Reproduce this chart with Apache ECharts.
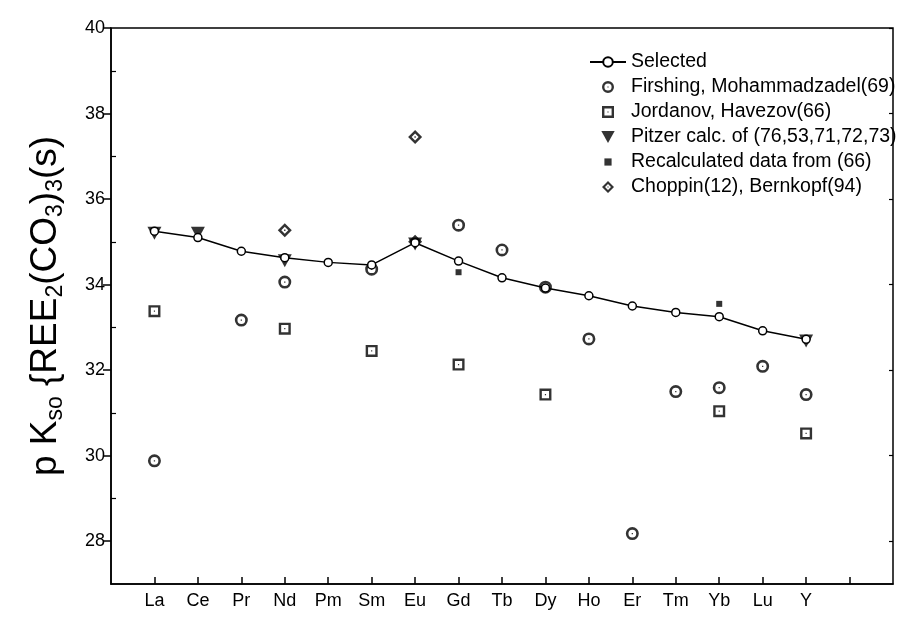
<!DOCTYPE html>
<html><head><meta charset="utf-8">
<script src="https://cdn.jsdelivr.net/npm/echarts@6/dist/echarts.min.js"></script>
<style>html,body{margin:0;padding:0;background:#fff}#c{width:899px;height:619px}</style>
</head><body><div id="c"></div>
<script>
const elements = ['La','Ce','Pr','Nd','Pm','Sm','Eu','Gd','Tb','Dy','Ho','Er','Tm','Yb','Lu','Y'];
const yTickLabels = [28, 30, 32, 34, 36, 38, 40];
const yMinorTicks = [29, 31, 33, 35, 37, 39];

const selected = [35.25, 35.1, 34.78, 34.63, 34.52, 34.46, 34.98, 34.55, 34.16, 33.92, 33.74, 33.5, 33.35, 33.25, 32.92, 32.72];
const firshingEl = ['La','Pr','Nd','Sm','Gd','Tb','Dy','Ho','Er','Tm','Yb','Lu','Y'];
const firshingVal = [29.88, 33.17, 34.06, 34.36, 35.39, 34.81, 33.94, 32.73, 28.18, 31.5, 31.59, 32.09, 31.43];
const jordanovEl = ['La','Nd','Sm','Gd','Dy','Yb','Y'];
const jordanovVal = [33.38, 32.97, 32.45, 32.13, 31.43, 31.04, 30.52];
const pitzerEl = ['La','Ce','Nd','Eu','Y'];
const pitzerVal = [35.2, 35.2, 34.56, 34.95, 32.68];
const recalcEl = ['Gd','Yb'];
const recalcVal = [34.29, 33.55];
const choppinEl = ['Nd','Eu','Eu'];
const choppinVal = [35.27, 37.45, 35.0];

const names = ['Selected','Firshing, Mohammadzadel(69)','Jordanov, Havezov(66)','Pitzer calc. of (76,53,71,72,73)','Recalculated data from (66)','Choppin(12), Bernkopf(94)'];

function pts(els, vals){ return els.map((e,i)=>[elements.indexOf(e)+1, vals[i]]); }

const ringCircle = 'path://M10 0 A10 10 0 1 1 10 20 A10 10 0 1 1 10 0 Z M10 4 A6 6 0 1 0 10 16 A6 6 0 1 0 10 4 Z M9 9 H11 V11 H9 Z';
const ringSquare = 'path://M0 0 H20 V20 H0 Z M4 4 V16 H16 V4 Z M9 9 H11 V11 H9 Z';
const ringDiamond = 'path://M10 0 L20 10 L10 20 L0 10 Z M10 5 L5 10 L10 15 L15 10 Z M9 9 H11 V11 H9 Z';
const triDown = 'path://M0 0 H20 L10 18 Z';
const smallSquare = 'path://M0 0 M10 10 M2 2 H8 V8 H2 Z';

const font = 'Liberation Sans, Arial, sans-serif';
const chart = echarts.init(document.getElementById('c'), null, {renderer:'canvas'});
const labelPos = elements.map((e,i)=>i+1);
const tickPos = labelPos.concat([labelPos.length+1]);

chart.setOption({
  animation:false,
  backgroundColor:'#fff',
  grid:{left:111, right:6, top:28, bottom:35, show:true, borderColor:'#000', borderWidth:1.5},
  legend:{
    orient:'vertical', left:584, top:47, itemGap:5, itemWidth:36, itemHeight:12,
    textStyle:{fontFamily:font, fontSize:19.5, color:'#000'},
    data:[names[0], names[1], names[2], names[3], {name:names[4], icon:smallSquare}, names[5]]
  },
  xAxis:{
    type:'value', min:0, max:18,
    axisLine:{lineStyle:{color:'#000', width:1.5}},
    axisTick:{inside:true, length:7, lineStyle:{color:'#000', width:1.5}, customValues:tickPos},
    axisLabel:{customValues:labelPos, formatter:(v)=>elements[Math.round(v)-1]||'', fontFamily:font, fontSize:18, color:'#000', margin:8},
    splitLine:{show:false}
  },
  yAxis:[{
    type:'value', min:27, max:40,
    axisLine:{lineStyle:{color:'#000', width:1.5}},
    axisTick:{inside:false, length:8, lineStyle:{color:'#000', width:1.5}, customValues:yTickLabels},
    axisLabel:{customValues:yTickLabels, fontFamily:font, fontSize:18, color:'#000', margin:6},
    splitLine:{show:false},
    name:'{a|p K}{s|so}{a| {REE}{s|2}{a|(CO}{s|3}{a|)}{s|3}{a|(s)}',
    nameLocation:'middle', nameGap:44, nameRotate:90,
    nameTextStyle:{fontFamily:font, fontSize:37, color:'#000',
      rich:{a:{fontFamily:font, fontSize:37, color:'#000', lineHeight:42},
            s:{fontFamily:font, fontSize:23, color:'#000', lineHeight:18, verticalAlign:'bottom'}}}
  },{
    type:'value', min:27, max:40, position:'left',
    axisLine:{show:false},
    axisTick:{inside:true, length:5, lineStyle:{color:'#000', width:1.2}, customValues:yMinorTicks},
    axisLabel:{show:false}, splitLine:{show:false}
  },{
    type:'value', min:27, max:40, position:'right',
    axisLine:{show:false},
    axisTick:{inside:true, length:4, lineStyle:{color:'#000', width:1.2}, customValues:yTickLabels},
    axisLabel:{show:false}, splitLine:{show:false}
  }],
  series:[
    {name:names[1], type:'scatter', data:pts(firshingEl, firshingVal), symbol:ringCircle, symbolSize:13, itemStyle:{color:'#000'}, z:2},
    {name:names[2], type:'scatter', data:pts(jordanovEl, jordanovVal), symbol:ringSquare, symbolSize:12, itemStyle:{color:'#000'}, z:2},
    {name:names[3], type:'scatter', data:pts(pitzerEl, pitzerVal), symbol:triDown, symbolSize:[14,13], itemStyle:{color:'#000'}, z:2},
    {name:names[4], type:'scatter', data:pts(recalcEl, recalcVal), symbol:smallSquare, symbolSize:10, itemStyle:{color:'#000'}, z:2},
    {name:names[5], type:'scatter', data:pts(choppinEl, choppinVal), symbol:ringDiamond, symbolSize:14, itemStyle:{color:'#000'}, z:2},
    {name:names[0], type:'line', data:selected.map((v,i)=>[i+1,v]), symbol:'circle', symbolSize:8,
      itemStyle:{color:'#fff', borderColor:'#000', borderWidth:1.5}, lineStyle:{color:'#000', width:1.5}, z:5}
  ]
});
</script></body></html>
